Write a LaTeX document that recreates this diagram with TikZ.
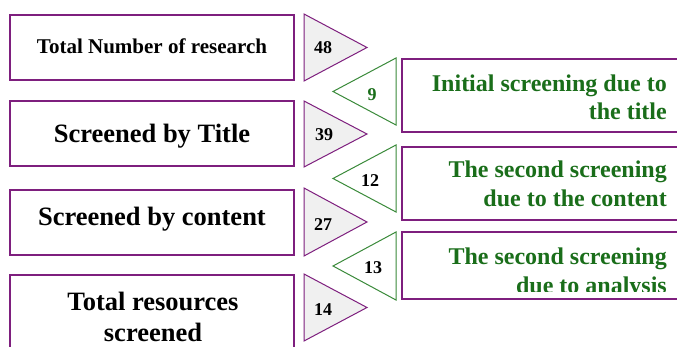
\documentclass[tikz,border=0pt]{standalone}
\usepackage{fontspec}
\setmainfont{Liberation Serif}
\definecolor{pline}{HTML}{7E1F7E}
\definecolor{gline}{HTML}{3A8A3A}
\definecolor{gtext}{HTML}{1A6E1A}
\definecolor{tfill}{HTML}{F0F0F0}
\tikzset{
  lbox/.style={draw=pline, line width=1.2pt},
  rbox/.style={draw=pline, line width=1.2pt},
  rtri/.style={draw=pline, fill=tfill, line width=1pt},
  gtri/.style={draw=gline, line width=1pt},
  big/.style={font=\bfseries\fontsize{26.5}{32}\selectfont, anchor=base, inner sep=0pt},
  mid/.style={font=\bfseries\fontsize{21}{25}\selectfont, anchor=base, inner sep=0pt},
  num/.style={font=\bfseries\fontsize{18}{20}\selectfont, anchor=base, inner sep=0pt},
  gtx/.style={font=\bfseries\fontsize{24}{28}\selectfont, anchor=base east, inner sep=0pt, text=gtext},
}
\begin{document}
\begin{tikzpicture}[x=1pt,y=-1pt]
\clip (0,0) rectangle (677,347);
\fill[white] (0,0) rectangle (677,347);
% left boxes
\draw[lbox] (10,15) rectangle (294,80);
\draw[lbox] (10,101) rectangle (294,166);
\draw[lbox] (10,190) rectangle (294,255);
\draw[lbox] (10,275) rectangle (294,362);
\node[mid] (t1) at (152,54) {Total Number of research};
\node[big] (t2) at (152,143) {Screened by Title};
\node[big] (t3) at (152,226) {Screened by content};
\node[big] (t4a) at (153,310) {Total resources};
\node[big] (t4b) at (153,341.5) {screened};
% right-pointing triangles
\draw[rtri] (304,14) -- (367,47.5) -- (304,81) -- cycle;
\draw[rtri] (304,101) -- (367,134) -- (304,167) -- cycle;
\draw[rtri] (304,188) -- (367,222) -- (304,256) -- cycle;
\draw[rtri] (304,274) -- (367,307.5) -- (304,341) -- cycle;
\node[num] (n48) at (323,54) {48};
\node[num] (n39) at (324,141) {39};
\node[num] (n27) at (323,231) {27};
\node[num] (n14) at (323,315) {14};
% left-pointing triangles
\draw[gtri] (396,58) -- (333,91.5) -- (396,125) -- cycle;
\draw[gtri] (396,145) -- (333,178.5) -- (396,212) -- cycle;
\draw[gtri] (396,232) -- (333,266) -- (396,300) -- cycle;
\node[num, text=gtext] (n9) at (372,101) {9};
\node[num] (n12) at (370,187) {12};
\node[num] (n13) at (373,274) {13};
% right boxes
\draw[rbox] (402,59) rectangle (690,132);
\draw[rbox] (402,147) rectangle (690,220);
\draw[rbox] (402,232) rectangle (690,299);
\node[gtx] (r1a) at (667,92) {Initial screening due to};
\node[gtx] (r1b) at (667,120) {the title};
\node[gtx] (r2a) at (667,178) {The second screening};
\node[gtx] (r2b) at (667,207) {due to the content};
\node[gtx] (r3a) at (667,264.5) {The second screening};
\begin{scope}
\clip (403,233) rectangle (677,291.5);
\node[gtx] (r3b) at (667,294) {due to analysis};
\end{scope}
\end{tikzpicture}
\end{document}
